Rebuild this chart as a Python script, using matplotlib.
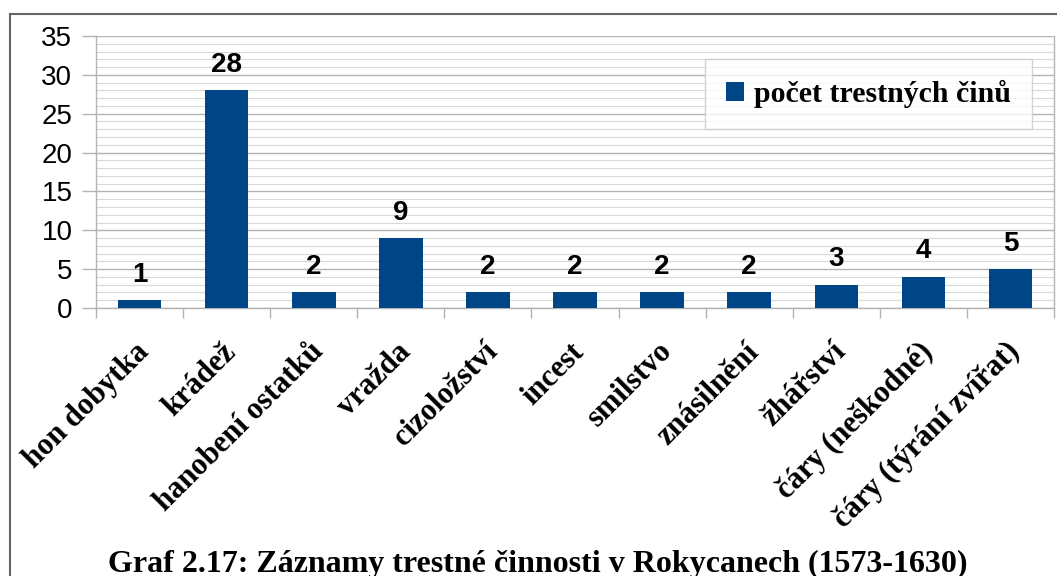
import numpy as np
import matplotlib
matplotlib.use("Agg")
import matplotlib.pyplot as plt
import matplotlib.transforms as mtransforms
from matplotlib.lines import Line2D
from matplotlib.ticker import MultipleLocator

# data
categories = ["hon dobytka", "krádež", "hanobení ostatků", "vražda", "cizoložství",
              "incest", "smilstvo", "znásilnění", "žhářství", "čáry (neškodné)",
              "čáry (týrání zvířat)"]
counts = [1, 28, 2, 9, 2, 2, 2, 2, 3, 4, 5]
series_name = "počet trestných činů"
caption = "Graf 2.17: Záznamy trestné činnosti v Rokycanech (1573-1630)"

W, H = 1057, 576
bar_color = "#004586"
grid_major = "#b3b3b3"
grid_minor = "#d9d9d9"
serif = ["Liberation Serif", "DejaVu Serif"]
sans = ["Liberation Sans", "DejaVu Sans"]

fig = plt.figure(figsize=(W / 100, H / 100), dpi=100)
ax = fig.add_axes([96 / W, 1 - 308 / H, (1054 - 96) / W, (308 - 36) / H])

x = np.arange(len(categories))
bars = ax.bar(x, counts, width=0.5, color=bar_color, zorder=3, label=series_name)

ax.set_xlim(-0.5, len(categories) - 0.5)
ax.set_ylim(0, 35)

# y axis: major every 5, light minor grid every 1
ax.yaxis.set_major_locator(MultipleLocator(5))
ax.yaxis.set_minor_locator(MultipleLocator(1))
ax.grid(axis="y", which="major", color=grid_major, linewidth=1.0, zorder=0)
ax.grid(axis="y", which="minor", color=grid_minor, linewidth=0.8, zorder=0)
ax.tick_params(axis="y", which="major", length=10, width=1.0, color=grid_major,
               pad=7, labelsize=20)
ax.tick_params(axis="y", which="minor", length=0)
for lab in ax.get_yticklabels():
    lab.set_fontfamily(sans)

# x axis: ticks at category boundaries, labels at centers
ax.set_xticks(x)
ax.set_xticks(np.arange(len(categories) + 1) - 0.5, minor=True)
ax.tick_params(axis="x", which="minor", length=7.5, width=1.0, color=grid_major)
ax.tick_params(axis="x", which="major", length=0, pad=21)
ax.set_xticklabels(categories, rotation=45, ha="right", va="top",
                   rotation_mode="anchor", fontsize=22, fontweight="bold",
                   family=serif)
shift = mtransforms.ScaledTranslation(-5 / 100, 0, fig.dpi_scale_trans)
for lab in ax.get_xticklabels():
    lab.set_transform(lab.get_transform() + shift)

ax.spines["top"].set_visible(False)
for side in ["left", "bottom", "right"]:
    ax.spines[side].set_color(grid_major)
    ax.spines[side].set_linewidth(1.0)

# value labels
for rect, v in zip(bars, counts):
    ax.annotate(str(v), (rect.get_x() + rect.get_width() / 2, v),
                xytext=(0, 9), textcoords="offset points", ha="center",
                va="bottom", fontsize=20, fontweight="bold", family=sans)

leg = ax.legend(loc="upper right", bbox_to_anchor=(1032 / W, 1 - 59 / H),
                bbox_transform=fig.transFigure, frameon=True, fancybox=False,
                prop={"family": serif, "weight": "bold", "size": 21.5},
                handlelength=0.6, handleheight=0.6, handletextpad=0.35,
                borderpad=0.7, borderaxespad=0)
leg.get_frame().set_edgecolor("#c8c8c8")
leg.get_frame().set_linewidth(1.0)
leg.set_zorder(5)

# caption under the chart (cut at the bottom edge, as in the source)
fig.text(538 / W, 4 / H, caption, ha="center", va="baseline", fontsize=23,
         fontweight="bold", family=serif)

# frame around the figure (top and left edges visible)
fig.add_artist(Line2D([10 / W, 1], [1 - 14 / H] * 2, color="#666666", linewidth=1.5))
fig.add_artist(Line2D([10 / W] * 2, [0, 1 - 14 / H], color="#666666", linewidth=1.5))

fig.savefig("out.png", dpi=100)
